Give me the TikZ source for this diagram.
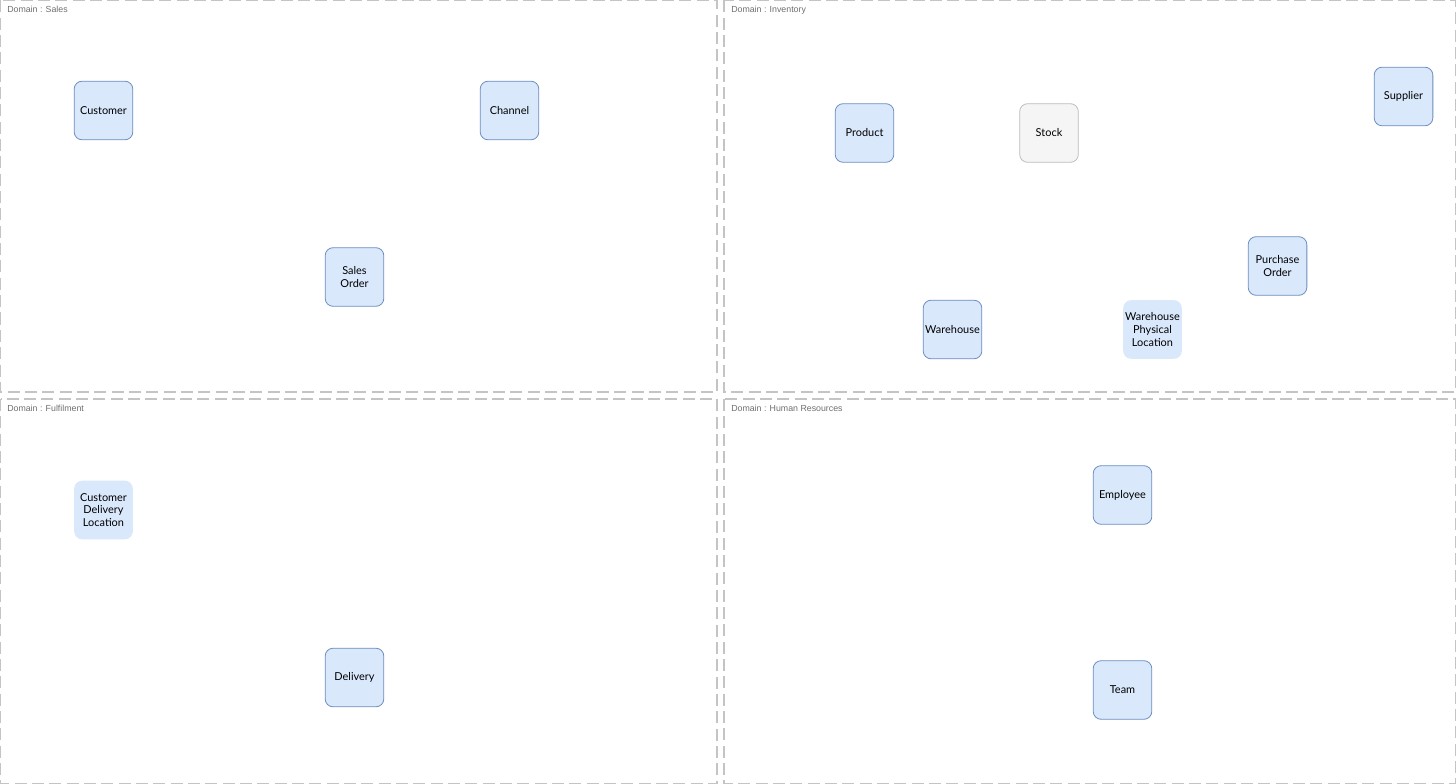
\documentclass[tikz,border=0pt]{standalone}
\usepackage{fontspec}
\setmainfont{Lato}
\newfontfamily\labelfont{Liberation Sans}
\definecolor{entityfill}{HTML}{DAE8FC}
\definecolor{entityline}{HTML}{6C8EBF}
\definecolor{stockfill}{HTML}{F5F5F5}
\definecolor{stockline}{HTML}{BDBDBD}
\definecolor{domainline}{HTML}{C4C4C4}
\definecolor{domaintext}{HTML}{6E6E6E}
\tikzset{
  entity/.style={rectangle, rounded corners=6pt, draw=entityline, fill=entityfill,
    minimum width=44pt, minimum height=44pt, align=center, inner sep=1pt,
    font=\fontsize{8.2}{9.6}\selectfont, line width=0.6pt},
  plainentity/.style={entity, draw=none},
  greyentity/.style={entity, draw=stockline, fill=stockfill},
  domainbox/.style={draw=domainline, line width=0.9pt, dash pattern=on 9pt off 4pt},
  domainlabel/.style={anchor=north west, inner sep=0pt, text=domaintext,
    font=\labelfont\fontsize{6.6}{8}\selectfont}
}
\begin{document}
\begin{tikzpicture}[x=0.75pt, y=-0.75pt]
  \useasboundingbox (0,0) rectangle (1456,784);
  % Domain areas
  \draw[domainbox] (0.5,0.5) rectangle (717,392);
  \draw[domainbox] (724,0.5) rectangle (1455.5,392);
  \draw[domainbox] (0.5,399) rectangle (717,783.5);
  \draw[domainbox] (724,399) rectangle (1455.5,783.5);
  \node[domainlabel] (salesLabel) at (7,6) {Domain : Sales};
  \node[domainlabel] (inventoryLabel) at (731,6) {Domain : Inventory};
  \node[domainlabel] (fulfilmentLabel) at (7,405) {Domain : Fulfilment};
  \node[domainlabel] (hrLabel) at (731,405) {Domain : Human Resources};

  % Sales
  \node[entity] (customer) at (103.5,110.5) {Customer};
  \node[entity] (channel) at (509.5,110.5) {Channel};
  \node[entity] (salesOrder) at (354.5,277) {Sales\\Order};

  % Inventory
  \node[entity] (product) at (864.5,133) {Product};
  \node[greyentity] (stock) at (1049,133) {Stock};
  \node[entity] (supplier) at (1403.5,96.5) {Supplier};
  \node[entity] (purchaseOrder) at (1277.5,266) {Purchase\\Order};
  \node[entity] (warehouse) at (952.5,329.5) {Warehouse};
  \node[plainentity] (warehouseLocation) at (1152.5,329.5) {Warehouse\\Physical\\Location};

  % Fulfilment
  \node[plainentity] (deliveryLocation) at (103.5,510) {Customer\\Delivery\\Location};
  \node[entity] (delivery) at (354.5,677.5) {Delivery};

  % Human Resources
  \node[entity] (employee) at (1122.5,495) {Employee};
  \node[entity] (team) at (1122.5,690) {Team};
\end{tikzpicture}
\end{document}
